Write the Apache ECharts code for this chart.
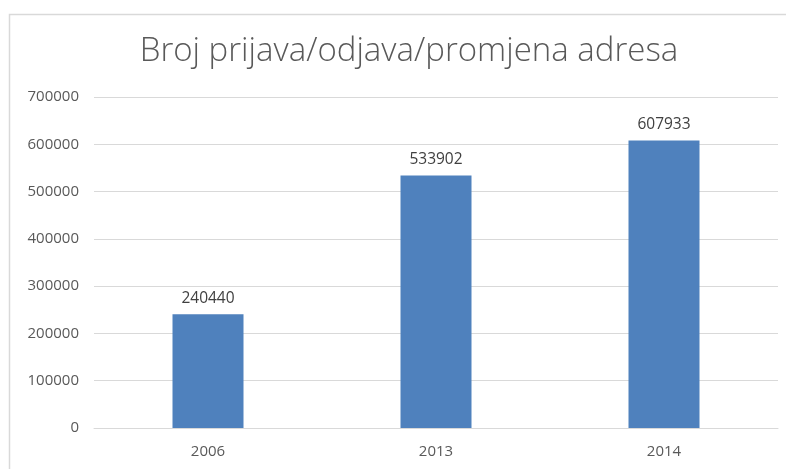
<!DOCTYPE html>
<html>
<head>
<meta charset="utf-8">
<script src="https://cdn.jsdelivr.net/npm/echarts@6/dist/echarts.min.js"></script>
<style>
  html, body { margin: 0; padding: 0; background: #fff; }
  #chart { width: 786px; height: 469px; }
</style>
</head>
<body>
<div id="chart"></div>
<script>
const title = 'Broj prijava/odjava/promjena adresa';
const years = ['2006', '2013', '2014'];
const counts = [240440, 533902, 607933];

const chart = echarts.init(document.getElementById('chart'));
chart.setOption({
  animation: false,
  textStyle: { fontFamily: 'Open Sans' },
  graphic: [
    {
      type: 'rect',
      left: 7, top: 12,
      shape: { width: 820, height: 500 },
      style: { fill: 'none', stroke: '#d9d9d9', lineWidth: 1.5 }
    }
  ],
  title: {
    text: title,
    left: 404,
    textAlign: 'center',
    top: 30,
    textStyle: { fontSize: 33, fontWeight: 300, color: '#595959', fontFamily: 'Open Sans' }
  },
  grid: { left: 94, right: 8, top: 97, bottom: 41 },
  xAxis: {
    type: 'category',
    data: years,
    axisLine: { lineStyle: { color: '#d9d9d9' } },
    axisTick: { show: false },
    axisLabel: { color: '#595959', fontSize: 15, margin: 16 }
  },
  yAxis: {
    type: 'value',
    min: 0, max: 700000, interval: 100000,
    axisLine: { show: false },
    axisTick: { show: false },
    splitLine: { lineStyle: { color: '#d9d9d9' } },
    axisLabel: { color: '#595959', fontSize: 15, margin: 15, formatter: v => String(v) }
  },
  series: [
    {
      type: 'bar',
      data: counts,
      barWidth: 71,
      itemStyle: { color: '#4f81bd' },
      label: { show: true, position: 'top', distance: 8, color: '#404040', fontSize: 15.5 }
    }
  ]
});
</script>
</body>
</html>
